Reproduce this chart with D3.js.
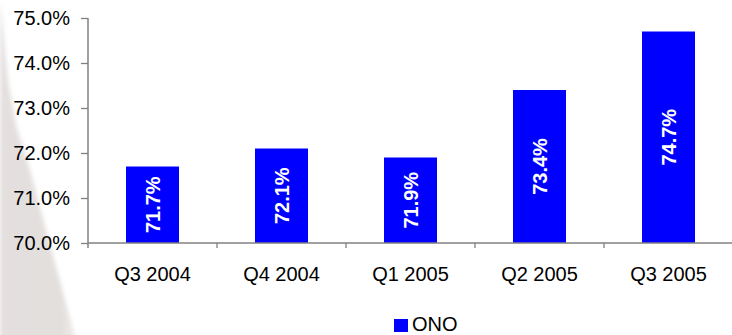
<!DOCTYPE html>
<html>
<head>
<meta charset="utf-8">
<script src="https://cdn.jsdelivr.net/npm/d3@7"></script>
<style>
  html, body { margin: 0; padding: 0; background: #ffffff; }
  svg { display: block; font-family: "Liberation Sans", Arial, sans-serif; }
</style>
</head>
<body>
<svg id="chart" width="732" height="335"></svg>
<script>
// Quarterly values (percent)
const categories = ["Q3 2004", "Q4 2004", "Q1 2005", "Q2 2005", "Q3 2005"];
const values = [71.7, 72.1, 71.9, 73.4, 74.7];
const yTicks = [70, 71, 72, 73, 74, 75];
const seriesName = "ONO";

const svg = d3.select("#chart");
const W = 732, H = 335;
const plotLeft = 88, plotRight = 733, plotTop = 18, plotBottom = 243;

// soft grey backdrop wedge on the left
const defs = svg.append("defs");
const grad = defs.append("linearGradient")
  .attr("id", "wedge").attr("x1", "0").attr("y1", "0").attr("x2", "1").attr("y2", "0");
grad.append("stop").attr("offset", "0").attr("stop-color", "#e4e0df");
grad.append("stop").attr("offset", "0.8").attr("stop-color", "#e2dfdd");
grad.append("stop").attr("offset", "1").attr("stop-color", "#eeebea");
defs.append("filter").attr("id", "soft")
  .append("feGaussianBlur").attr("stdDeviation", 2);
svg.append("path")
  .attr("d", "M0,0 L4,40 L8,80 L16,125 L30,170 L50,245 L76,340 L0,340 Z")
  .attr("fill", "url(#wedge)")
  .attr("filter", "url(#soft)");

const x = d3.scaleBand().domain(categories).range([plotLeft, plotRight]).paddingInner(0).paddingOuter(0);
const y = d3.scaleLinear().domain([70, 75]).range([plotBottom, plotTop]);
const barW = 53;
const axisColor = "#808080";

// bars
svg.append("g").selectAll("rect").data(values).join("rect")
  .attr("x", (d, i) => x(categories[i]) + x.bandwidth() / 2 - barW / 2)
  .attr("y", d => y(d))
  .attr("width", barW)
  .attr("height", d => y(70) - y(d))
  .attr("fill", "#0000ff");

// value labels, rotated inside bars
svg.append("g").selectAll("text").data(values).join("text")
  .attr("transform", (d, i) => {
    const cx = x(categories[i]) + x.bandwidth() / 2;
    const cy = (y(d) + y(70)) / 2;
    return `translate(${cx},${cy}) rotate(-90)`;
  })
  .attr("text-anchor", "middle")
  .attr("dy", "0.35em")
  .attr("fill", "#ffffff")
  .attr("font-weight", "bold")
  .attr("font-size", 20)
  .text(d => d.toFixed(1) + "%");

// y axis
const yAxis = svg.append("g")
  .attr("transform", `translate(${plotLeft},0)`)
  .call(d3.axisLeft(y).tickValues(yTicks).tickSize(7).tickPadding(11)
    .tickFormat(d => d.toFixed(1) + "%"));
yAxis.select(".domain").remove();
yAxis.selectAll(".tick line").attr("stroke", axisColor).attr("stroke-width", 1.3);
yAxis.selectAll(".tick text").attr("font-size", 20).attr("fill", "#000")
  .attr("font-family", "Liberation Sans, Arial, sans-serif");
svg.append("line")
  .attr("x1", plotLeft).attr("x2", plotLeft).attr("y1", y(75)).attr("y2", plotBottom + 5)
  .attr("stroke", axisColor).attr("stroke-width", 1.5);

// x axis
svg.append("line")
  .attr("x1", plotLeft).attr("x2", W).attr("y1", plotBottom).attr("y2", plotBottom)
  .attr("stroke", axisColor).attr("stroke-width", 1.5);
const bounds = categories.map(c => x(c)).concat([plotRight]);
svg.append("g").selectAll("line").data(bounds.slice(1)).join("line")
  .attr("x1", d => d).attr("x2", d => d)
  .attr("y1", plotBottom).attr("y2", plotBottom + 5)
  .attr("stroke", axisColor).attr("stroke-width", 1.3);
svg.append("g").selectAll("text").data(categories).join("text")
  .attr("x", d => x(d) + x.bandwidth() / 2)
  .attr("y", 281)
  .attr("text-anchor", "middle")
  .attr("font-size", 20)
  .attr("fill", "#000")
  .text(d => d);

// legend
const lg = svg.append("g");
lg.append("rect").attr("x", 394).attr("y", 319).attr("width", 14).attr("height", 13).attr("fill", "#0000ff");
lg.append("text").attr("x", 412).attr("y", 331).attr("font-size", 20).attr("fill", "#000").text(seriesName);
</script>
</body>
</html>
